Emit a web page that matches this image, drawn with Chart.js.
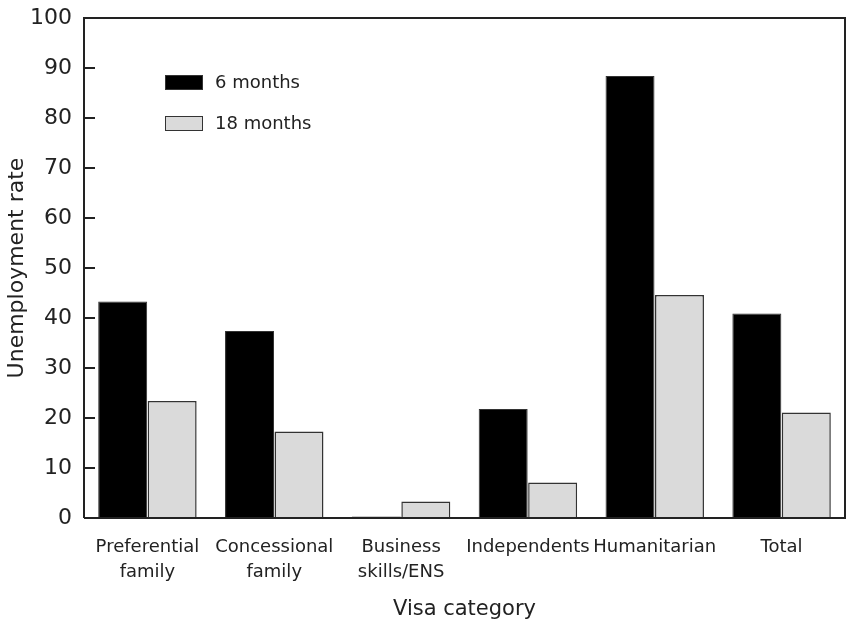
<!DOCTYPE html>
<html>
<head>
<meta charset="utf-8">
<script src="https://cdn.jsdelivr.net/npm/chart.js@4/dist/chart.umd.min.js"></script>
<style>
  html, body { margin: 0; padding: 0; background: #fff; }
  #wrap { width: 847px; height: 627px; position: relative; }
</style>
</head>
<body>
<div id="wrap"><canvas id="c" width="847" height="627"></canvas></div>
<script>
const categories = [["Preferential", "family"], ["Concessional", "family"], ["Business", "skills/ENS"], ["Independents"], ["Humanitarian"], ["Total"]];
const seriesNames = ["6 months", "18 months"];
const sixMonths = [43.3, 37.4, 0.3, 21.8, 88.4, 40.9];
const eighteenMonths = [23.4, 17.3, 3.3, 7.1, 44.6, 21.1];
const yTicks = [0, 10, 20, 30, 40, 50, 60, 70, 80, 90, 100];

const FONT = "'DejaVu Sans', 'Liberation Sans', Arial, sans-serif";
const AXIS_COLOR = '#222';

const framePlugin = {
  id: 'frame',
  afterDraw(chart) {
    const ctx = chart.ctx;
    const a = chart.chartArea;
    const y = chart.scales.y;
    ctx.save();
    ctx.strokeStyle = AXIS_COLOR;
    ctx.lineWidth = 2;
    ctx.beginPath();
    ctx.moveTo(a.left, a.bottom);
    ctx.lineTo(a.left, a.top);
    ctx.lineTo(a.right, a.top);
    ctx.lineTo(a.right, a.bottom);
    ctx.lineTo(a.left, a.bottom);
    ctx.stroke();
    // inward tick marks
    y.ticks.forEach(t => {
      const py = Math.round(y.getPixelForValue(t.value));
      ctx.beginPath();
      ctx.moveTo(a.left, py);
      ctx.lineTo(a.left + 11, py);
      ctx.stroke();
    });
    // legend inside plot
    const ds = chart.data.datasets;
    const lx = a.left + 81, ly0 = a.top + 57, gap = 41;
    ds.forEach((d, i) => {
      const ly = ly0 + i * gap;
      ctx.fillStyle = d.backgroundColor;
      ctx.fillRect(lx, ly, 38, 15);
      ctx.strokeStyle = d.borderColor;
      ctx.lineWidth = 1;
      ctx.strokeRect(lx + 0.5, ly + 0.5, 37, 14);
      ctx.fillStyle = '#222';
      ctx.font = "18px " + FONT;
      ctx.textBaseline = 'middle';
      ctx.textAlign = 'left';
      ctx.fillText(d.label, lx + 50, ly + 8);
    });
    ctx.restore();
  }
};

new Chart(document.getElementById('c'), {
  type: 'bar',
  data: {
    labels: categories,
    datasets: [
      { label: seriesNames[0], data: sixMonths, backgroundColor: '#000000', borderColor: '#333333', borderWidth: 1 },
      { label: seriesNames[1], data: eighteenMonths, backgroundColor: '#dadada', borderColor: '#333333', borderWidth: 1.5 }
    ]
  },
  options: {
    responsive: false,
    animation: false,
    devicePixelRatio: 1,
    layout: { padding: { top: 18, right: 2, left: 0, bottom: 0 } },
    plugins: { legend: { display: false }, tooltip: { enabled: false } },
    datasets: { bar: { categoryPercentage: 0.78, barPercentage: 0.99 } },
    scales: {
      x: {
        grid: { display: false, drawTicks: false },
        border: { display: false },
        ticks: { color: '#222', font: { family: FONT, size: 18, lineHeight: 1.4 }, padding: 17, maxRotation: 0, autoSkip: false },
        title: { display: true, text: 'Visa category', color: '#222', font: { family: FONT, size: 21 }, padding: { top: 5, bottom: 5 } },
        afterFit(s) { s.height = 627 - 518; s.paddingLeft = 0; s.paddingRight = 0; }
      },
      y: {
        min: 0, max: 100,
        afterBuildTicks(s) { s.ticks = yTicks.map(v => ({ value: v })); },
        grid: { display: false, drawTicks: false },
        border: { display: false },
        ticks: { color: '#222', font: { family: FONT, size: 22 }, padding: 12 },
        title: { display: true, text: 'Unemployment rate', color: '#222', font: { family: FONT, size: 22 }, padding: { top: 4, bottom: 0 } },
        afterFit(s) { s.width = 84; s.paddingTop = 0; s.paddingBottom = 0; }
      }
    }
  },
  plugins: [framePlugin]
});
</script>
</body>
</html>
